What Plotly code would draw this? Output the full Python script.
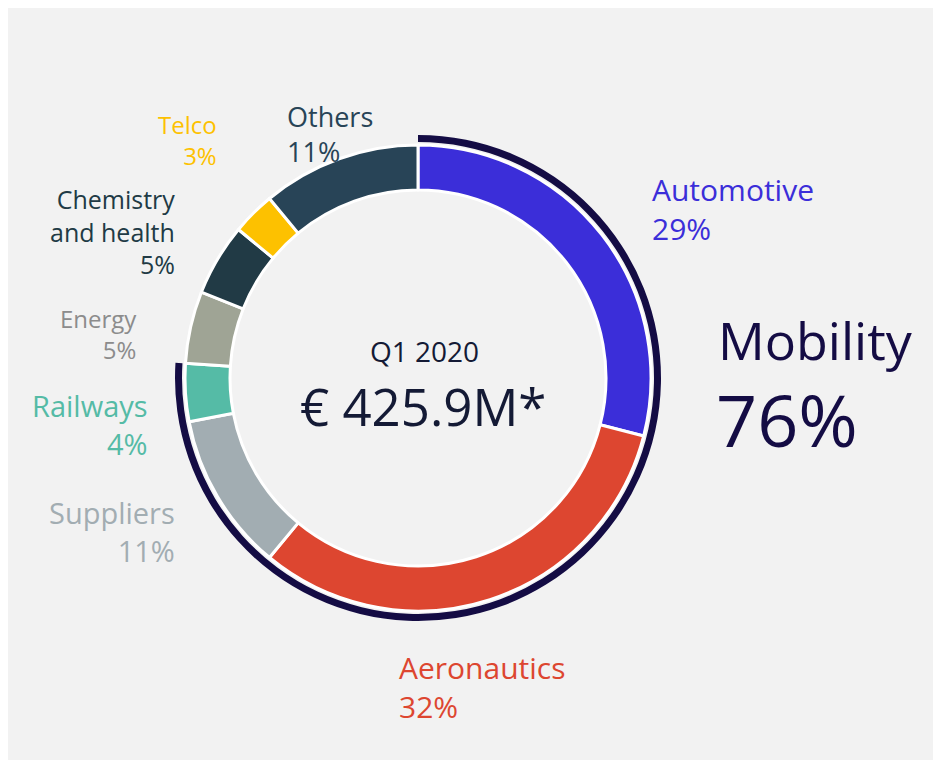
import plotly.graph_objects as go

# figure size (page adds an 8px body margin)
W, H = 941, 752
OFF = 8

categories = ["Automotive", "Aeronautics", "Suppliers", "Railways", "Energy",
              "Chemistry<br>and health", "Telco", "Others"]
shares = [29, 32, 11, 4, 5, 5, 3, 11]
slice_colors = ["#3b2ed9", "#dd4630", "#a2adb2", "#55bba6", "#9fa495",
                "#213a45", "#fdc100", "#284457"]
label_colors = ["#3b2ed9", "#dd4630", "#a2adb2", "#55bba6", "#8c8c8c",
                "#213a45", "#fdc100", "#284457"]

group_name = "Mobility"
group_share = 76
period = "Q1 2020"
total = "€ 425.9M*"

FONT = "Open Sans"

# geometry (screen pixels)
cx, cy = 418 - OFF, 378 - OFF
R = 233
R_arc_out, R_arc_in = 243, 236


def dom(r):
    return dict(x=[(cx - r) / W, (cx + r) / W],
                y=[(H - cy - r) / H, (H - cy + r) / H])


fig = go.Figure()

fig.add_trace(go.Pie(
    labels=[c.replace("<br>", " ") for c in categories], values=shares,
    sort=False, direction="clockwise", rotation=0,
    hole=188 / R,
    marker=dict(colors=slice_colors, line=dict(color="white", width=3)),
    textinfo="none", hoverinfo="label+percent",
    domain=dom(R), showlegend=False,
))

fig.add_trace(go.Pie(
    labels=[group_name, "Other"], values=[group_share, 100 - group_share],
    sort=False, direction="clockwise", rotation=0,
    hole=R_arc_in / R_arc_out,
    marker=dict(colors=["#140c44", "rgba(0,0,0,0)"], line=dict(width=0)),
    textinfo="none", hoverinfo="skip",
    domain=dom(R_arc_out), showlegend=False,
))

# label positions in screen pixels: (x, y_center, anchor, size)
label_pos = {
    "Automotive": (650, 209, "left", 30),
    "Aeronautics": (397, 687, "left", 30),
    "Suppliers": (177, 531, "right", 29),
    "Railways": (150, 424, "right", 29),
    "Energy": (139, 334, "right", 24),
    "Chemistry<br>and health": (177, 231, "right", 25),
    "Telco": (219, 140, "right", 24),
    "Others": (285, 134, "left", 27),
}

ann = []


def px(x):
    return (x - OFF) / W


def py(y):
    return 1 - (y - OFF) / H


for cat, val, col in zip(categories, shares, label_colors):
    x, yc, anc, sz = label_pos[cat]
    ann.append(dict(x=px(x), y=py(yc), text=f"{cat}<br>{val}%", align=anc,
                    xanchor=anc, yanchor="middle", showarrow=False,
                    font=dict(family=FONT, size=sz, color=col)))

ann.append(dict(x=px(716), y=py(340), text=group_name, xanchor="left", yanchor="middle",
                showarrow=False, font=dict(family=FONT, size=52, color="#140c44")))
ann.append(dict(x=px(714), y=py(419), text=f"{group_share}%", xanchor="left", yanchor="middle",
                showarrow=False, font=dict(family=FONT, size=72, color="#140c44")))
ann.append(dict(x=px(cx + OFF + 6), y=py(351), text=period, xanchor="center", yanchor="middle",
                showarrow=False, font=dict(family=FONT, size=28, color="#141a35")))
ann.append(dict(x=px(cx + OFF + 5), y=py(406), text=total, xanchor="center", yanchor="middle",
                showarrow=False, font=dict(family=FONT, size=51, color="#141a35")))

fig.update_layout(
    width=W, height=H,
    margin=dict(l=0, r=0, t=0, b=0),
    paper_bgcolor="#f2f2f2", plot_bgcolor="#f2f2f2",
    annotations=ann,
)

fig.write_html("out.html")
